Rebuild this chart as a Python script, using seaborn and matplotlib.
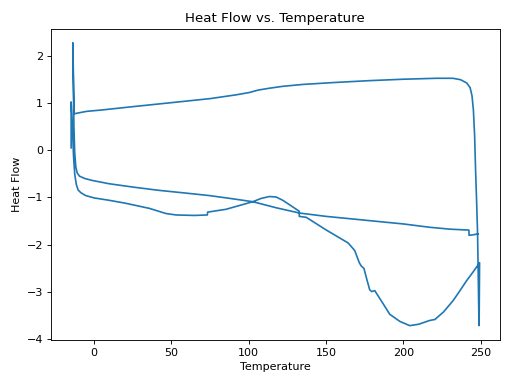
import pandas as pd
import matplotlib
matplotlib.use('Agg')
import matplotlib.pyplot as plt
import seaborn as sns
import numpy as np

# first heating run (lower branch)
heat1_temp = [-14.9, -14.9, -14.2, -13.4, -12.6, -11.6, -10.4, -8.6, -5.5, 0.0, 9.7, 20.0,
              35.6, 46.5, 53.0, 65.0, 73.2, 73.4, 85.3, 95.0, 102.6, 108.0, 113.4, 117.7,
              122.0, 128.0, 132.6, 132.7, 137.2, 150.2, 164.2, 168.5, 171.5, 172.8, 174.5,
              176.1, 178.2, 179.5, 181.5, 186.0, 191.2, 197.7, 204.1, 210.0, 217.1, 220.4,
              226.0, 232.2, 236.0, 240.9, 245.0, 249.3, 249.0]
heat1_flow = [0.05, 1.02, 0.6, -0.1, -0.5, -0.72, -0.84, -0.9, -0.96, -1.01, -1.06, -1.12,
              -1.23, -1.34, -1.37, -1.38, -1.37, -1.31, -1.25, -1.16, -1.09, -1.02, -0.98, -0.99,
              -1.06, -1.19, -1.29, -1.40, -1.42, -1.69, -1.96, -2.12, -2.38, -2.45, -2.50,
              -2.70, -2.95, -2.99, -2.97, -3.20, -3.47, -3.62, -3.71, -3.68, -3.60, -3.58,
              -3.42, -3.18, -3.00, -2.76, -2.58, -2.38, -3.71]

# cooling run
cool_temp = [248.9, 248.4, 248.0, 247.3, 246.7, 246.1, 245.3, 244.4, 243.2, 241.0, 237.0,
             232.0, 221.5, 200.0, 178.0, 155.0, 135.0, 122.0, 113.4, 106.0, 100.5, 91.8,
             75.0, 48.6, 25.0, 5.0, -5.0, -13.0]
cool_flow = [-3.68, -2.6, -1.76, -1.0, -0.41, 0.3, 0.85, 1.15, 1.32, 1.42, 1.49,
             1.52, 1.52, 1.50, 1.47, 1.43, 1.39, 1.35, 1.31, 1.27, 1.22, 1.17,
             1.09, 1.0, 0.92, 0.85, 0.82, 0.77]

# second heating run (upper branch)
heat2_temp = [-13.8, -13.5, -13.1, -12.6, -11.9, -11.0, -9.5, -6.0, -1.3, 9.7, 25.0, 42.0,
              60.0, 74.5, 90.0, 102.6, 118.0, 132.9, 150.0, 175.0, 200.0, 217.0, 230.0,
              242.4, 242.5, 245.0, 248.4]
heat2_flow = [2.27, 1.4, 0.5, -0.05, -0.35, -0.48, -0.55, -0.6, -0.64, -0.71, -0.78, -0.85,
              -0.91, -0.96, -1.03, -1.09, -1.22, -1.33, -1.40, -1.48, -1.56, -1.63, -1.67,
              -1.69, -1.80, -1.79, -1.77]

df = pd.DataFrame({
    'Temperature': heat1_temp + cool_temp + heat2_temp,
    'Heat Flow': heat1_flow + cool_flow + heat2_flow,
})

fig, ax = plt.subplots(figsize=(6.4, 4.8), dpi=80)
sns.lineplot(data=df, x='Temperature', y='Heat Flow', sort=False, estimator=None, ax=ax)
ax.set_title('Heat Flow vs. Temperature')
ax.set_xlabel('Temperature')
ax.set_ylabel('Heat Flow')
plt.tight_layout()
plt.savefig('out.png')
